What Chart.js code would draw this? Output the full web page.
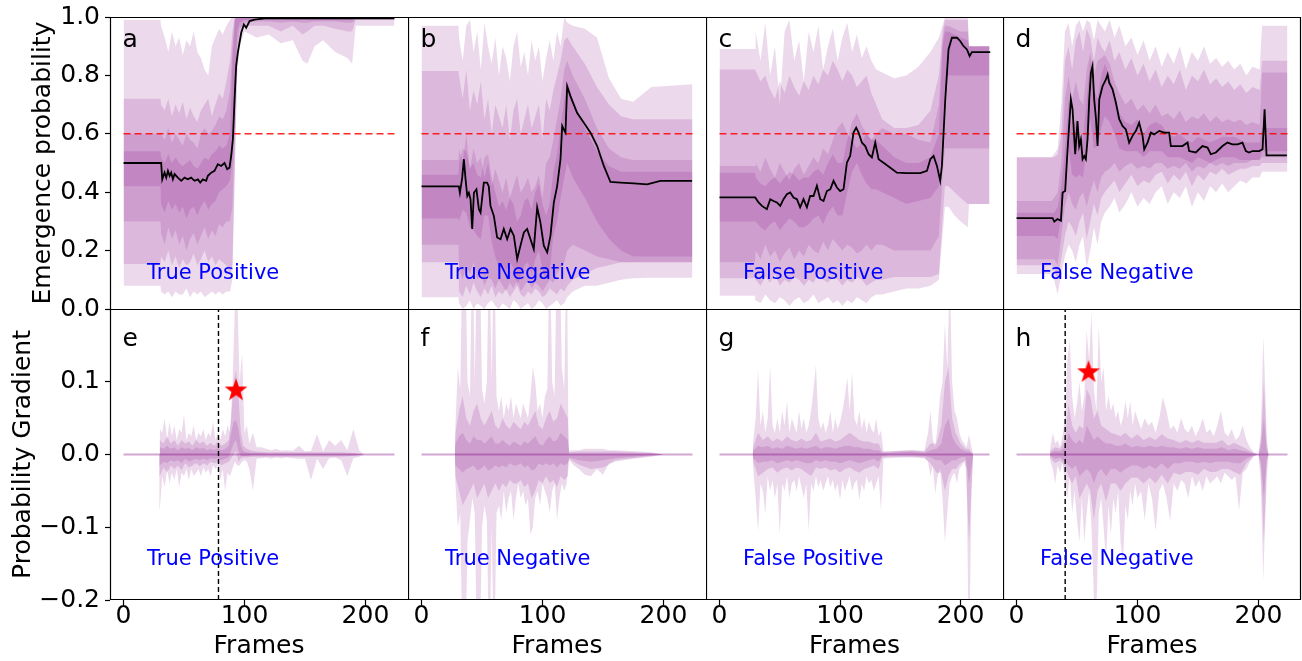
<!DOCTYPE html>
<html><head><meta charset="utf-8"><title>Emergence probability panels</title>
<script src="https://cdn.jsdelivr.net/npm/chart.js@4.4.1/dist/chart.umd.min.js"></script>
<style>
html,body{margin:0;padding:0;background:#fff;}
body{position:relative;width:1302px;height:661px;overflow:hidden;}
canvas{position:absolute;display:block;}
</style></head><body>
<script>
// ---------------- DATA ----------------
const xTicks = [0, 100, 200];
const topTicks = [0, 0.2, 0.4, 0.6, 0.8, 1.0];
const gradTicks = [-0.2, -0.1, 0, 0.1];
const thresholdX = [0, 224];
const thresholdY = [0.6, 0.6];
const zeroX = [0, 224];
const zeroY = [0, 0];
const vlineY = [-0.2, 0.2];
const eVlineX = [78.5, 78.5];
const hVlineX = [40.2, 40.2];
const eStarX = [93], eStarY = [0.088];
const hStarX = [59.5], hStarY = [0.113];

// ---- panel a (True Positive) ----
const aMedX = [0,31.1,32,33.9,35.3,36.7,38.1,39.4,40.8,42.2,44.9,47.7,50.4,53.2,55.9,58.7,61.5,63.4,65.6,68.3,69.7,72.5,75.2,78,80.7,83.5,85.7,87.6,89,90.4,91.8,93.1,94.5,97.3,99.5,101.4,104.2,108.3,116.6,224];
const aMedY = [0.5,0.5,0.444,0.467,0.45,0.473,0.456,0.467,0.444,0.462,0.45,0.439,0.45,0.444,0.45,0.439,0.444,0.433,0.444,0.439,0.456,0.467,0.473,0.496,0.49,0.5,0.479,0.484,0.524,0.581,0.718,0.832,0.878,0.946,0.974,0.963,0.986,0.991,0.995,0.995];
const aBandX = [0,30.5,31,34,37,40,43,46,49,52,55,58,61,64,67,70,73,76,79,82,85,88,90,92,94,96,100,110,120,130,140,148,152,158,165,175,185,189,192,200,224];
const aL1hi = [0.99,0.99,0.97,0.93,0.88,0.95,0.9,0.93,0.87,0.92,0.9,0.95,0.88,0.86,0.82,0.8,0.9,0.93,0.96,0.94,0.97,0.99,1,1,1,1,1,1,1,1,1,1,1,1,1,1,1,1,1,1,1];
const aL1lo = [0.08,0.08,0.06,0.05,0.06,0.04,0.06,0.05,0.05,0.07,0.04,0.06,0.05,0.06,0.04,0.05,0.06,0.05,0.06,0.05,0.06,0.06,0.1,0.45,0.8,0.9,0.95,0.93,0.94,0.91,0.92,0.85,0.84,0.9,0.92,0.88,0.86,0.84,0.97,0.97,0.97];
const aL2hi = [0.72,0.72,0.7,0.68,0.72,0.66,0.7,0.67,0.71,0.65,0.69,0.66,0.64,0.68,0.7,0.72,0.66,0.7,0.74,0.72,0.78,0.85,0.95,1,1,1,1,1,1,1,1,1,1,1,1,1,1,1,1,1,1];
const aL2lo = [0.154,0.154,0.18,0.16,0.2,0.15,0.18,0.14,0.17,0.15,0.16,0.19,0.15,0.17,0.2,0.16,0.18,0.15,0.17,0.16,0.15,0.12,0.15,0.5,0.85,0.93,0.97,0.97,0.97,0.95,0.97,0.94,0.95,0.97,0.97,0.96,0.95,0.95,0.99,0.99,0.99];
const aL3hi = [0.6,0.6,0.6,0.58,0.62,0.57,0.6,0.58,0.56,0.6,0.58,0.57,0.55,0.6,0.62,0.6,0.61,0.63,0.66,0.65,0.68,0.75,0.9,1,1,1,1,1,1,1,1,1,1,1,1,1,1,1,1,1,1];
const aL3lo = [0.3,0.3,0.26,0.22,0.28,0.24,0.27,0.22,0.25,0.2,0.24,0.26,0.22,0.25,0.28,0.24,0.27,0.25,0.29,0.28,0.3,0.3,0.35,0.6,0.9,0.96,0.98,0.985,0.985,0.98,0.985,0.98,0.98,0.985,0.985,0.985,0.98,0.98,0.995,0.995,0.995];
const aL4hi = [0.54,0.54,0.52,0.5,0.53,0.5,0.52,0.5,0.49,0.5,0.51,0.49,0.48,0.5,0.52,0.51,0.53,0.54,0.56,0.55,0.56,0.6,0.85,0.99,1,1,1,1,1,1,1,1,1,1,1,1,1,1,1,1,1];
const aL4lo = [0.42,0.42,0.36,0.33,0.37,0.34,0.36,0.33,0.35,0.31,0.34,0.35,0.32,0.35,0.37,0.34,0.36,0.37,0.4,0.41,0.42,0.44,0.5,0.75,0.95,0.98,0.99,0.99,0.99,0.99,0.99,0.99,0.99,0.99,0.99,0.99,0.99,0.99,1,1,1];

// ---- panel b (True Negative) ----
const bMedX = [0,30.8,31.7,33.6,35,36.4,37.8,39.1,40.5,41.9,43.3,45.4,47.4,48.8,51.5,54.2,55.6,57,59.8,62.5,65.3,68,70.8,73.6,76.3,79.1,81.8,84.6,87.3,90.1,92.8,95.6,98.3,101.1,103.9,106.6,109.4,112.1,114.9,116.3,117.6,119,120.4,123.1,128.6,134.2,139.7,145.2,150.7,156.2,164.5,175.5,186.5,197.5,223.7];
const bMedY = [0.42,0.42,0.398,0.449,0.513,0.444,0.387,0.398,0.376,0.274,0.398,0.41,0.342,0.33,0.433,0.433,0.42,0.353,0.319,0.245,0.239,0.274,0.239,0.274,0.251,0.171,0.217,0.262,0.274,0.239,0.205,0.348,0.296,0.217,0.194,0.251,0.365,0.42,0.513,0.627,0.615,0.604,0.763,0.729,0.672,0.638,0.604,0.558,0.49,0.435,0.433,0.43,0.427,0.439,0.439];
const bBandX = [0,30.5,31,34,37,40,43,46,49,52,55,58,61,64,67,70,73,76,79,82,85,88,91,94,97,100,103,106,109,112,115,118,120.5,125,135,145,155,165,175,190,224];
const bL1hi = [0.97,0.97,0.93,0.85,0.97,0.99,0.88,0.95,0.82,0.98,0.9,0.84,0.93,0.8,0.9,0.86,0.78,0.9,0.95,0.83,0.88,0.8,0.92,0.85,0.9,0.78,0.86,0.92,0.85,0.95,0.9,1.0,0.98,0.97,0.96,0.93,0.79,0.72,0.71,0.76,0.77];
const bL1lo = [0.04,0.04,0.02,0.0,0.01,0.03,0.0,0.02,0.01,0.0,0.02,0.03,0.01,0.0,0.02,0.01,0.0,0.03,0.02,0.0,0.01,0.02,0.0,0.01,0.03,0.02,0.0,0.01,0.02,0.03,0.01,0.02,0.04,0.06,0.08,0.08,0.09,0.1,0.105,0.107,0.107];
const bL2hi = [0.815,0.815,0.8,0.72,0.82,0.68,0.75,0.7,0.78,0.65,0.72,0.6,0.7,0.66,0.62,0.7,0.58,0.68,0.72,0.6,0.65,0.7,0.62,0.66,0.7,0.58,0.72,0.68,0.75,0.8,0.85,0.92,0.93,0.9,0.84,0.76,0.7,0.66,0.65,0.65,0.65];
const bL2lo = [0.16,0.16,0.06,0.04,0.08,0.05,0.09,0.06,0.04,0.07,0.05,0.08,0.04,0.06,0.05,0.07,0.04,0.06,0.08,0.05,0.04,0.06,0.05,0.07,0.06,0.04,0.05,0.07,0.06,0.05,0.07,0.06,0.08,0.1,0.12,0.14,0.15,0.16,0.16,0.16,0.16];
const bL3hi = [0.51,0.51,0.55,0.5,0.6,0.48,0.55,0.5,0.52,0.45,0.5,0.42,0.48,0.44,0.4,0.45,0.38,0.42,0.46,0.4,0.42,0.45,0.4,0.42,0.46,0.38,0.5,0.52,0.58,0.65,0.72,0.82,0.85,0.8,0.72,0.62,0.55,0.52,0.51,0.51,0.51];
const bL3lo = [0.22,0.22,0.14,0.1,0.15,0.12,0.16,0.1,0.12,0.08,0.11,0.1,0.07,0.1,0.08,0.06,0.09,0.07,0.1,0.06,0.08,0.1,0.07,0.09,0.08,0.06,0.08,0.1,0.09,0.12,0.14,0.16,0.2,0.22,0.2,0.18,0.17,0.16,0.16,0.16,0.16];
const bL4hi = [0.46,0.46,0.5,0.55,0.54,0.48,0.5,0.46,0.45,0.52,0.53,0.45,0.4,0.35,0.37,0.34,0.38,0.36,0.3,0.32,0.37,0.38,0.34,0.4,0.43,0.36,0.32,0.36,0.47,0.53,0.62,0.72,0.78,0.72,0.62,0.54,0.49,0.47,0.47,0.47,0.47];
const bL4lo = [0.31,0.31,0.3,0.34,0.33,0.28,0.27,0.25,0.24,0.32,0.32,0.23,0.18,0.14,0.15,0.13,0.16,0.14,0.08,0.11,0.15,0.16,0.12,0.17,0.2,0.13,0.1,0.13,0.25,0.3,0.38,0.45,0.5,0.45,0.38,0.3,0.24,0.2,0.18,0.18,0.18];

// ---- panel c (False Positive) ----
const cMedX = [0,29.6,32.4,35.2,39.3,42.1,44.8,47.6,50.4,53.1,55.9,58.7,61.4,64.2,66.9,69.7,72.5,75.2,78,80.8,83.6,86.3,89.1,91.9,94.6,97.4,100.1,102.9,105.7,108.4,111.2,113.4,115.4,118.1,120.9,123.7,126.4,129.2,132,136.1,141.7,147.2,155.5,166.5,172.1,174.9,177.6,180.4,183.1,184.5,187.3,190,192.8,197,199.8,202.5,205.3,207.5,209.4,224.6];
const cMedY = [0.382,0.382,0.365,0.353,0.342,0.376,0.37,0.365,0.353,0.376,0.393,0.399,0.382,0.376,0.348,0.376,0.348,0.387,0.387,0.422,0.376,0.37,0.404,0.41,0.439,0.416,0.404,0.41,0.501,0.524,0.604,0.621,0.604,0.57,0.558,0.53,0.519,0.57,0.513,0.501,0.484,0.467,0.465,0.465,0.473,0.513,0.524,0.49,0.439,0.49,0.718,0.889,0.929,0.929,0.917,0.9,0.889,0.866,0.88,0.88];
const cBandX = [0,29.5,30,34,38,42,46,50,54,58,62,66,70,74,78,82,86,90,94,98,102,106,110,114,118,122,126,130,135,145,155,165,175,182,185,187,190,195,200,206,207,224];
const cL1hi = [0.89,0.89,0.95,0.85,0.98,0.8,0.9,0.7,0.95,0.99,0.85,0.92,0.78,0.95,0.88,0.97,0.82,0.9,0.96,0.85,0.93,0.98,0.88,0.94,0.86,0.9,0.85,0.82,0.81,0.79,0.8,0.83,0.88,0.93,0.97,1.0,1.0,1.0,1.0,1.0,0.9,0.9];
const cL1lo = [0.045,0.045,0.03,0.02,0.05,0.03,0.02,0.04,0.03,0.01,0.03,0.04,0.02,0.03,0.05,0.02,0.03,0.04,0.02,0.03,0.01,0.03,0.02,0.04,0.03,0.02,0.04,0.05,0.05,0.06,0.07,0.07,0.08,0.1,0.25,0.35,0.35,0.32,0.3,0.28,0.36,0.36];
const cL2hi = [0.82,0.82,0.82,0.78,0.8,0.75,0.72,0.78,0.74,0.8,0.76,0.73,0.78,0.75,0.8,0.77,0.82,0.8,0.85,0.82,0.78,0.82,0.8,0.76,0.78,0.8,0.74,0.7,0.65,0.62,0.62,0.63,0.68,0.8,0.95,0.99,0.99,0.99,0.99,0.99,0.9,0.9];
const cL2lo = [0.105,0.105,0.1,0.08,0.11,0.09,0.12,0.08,0.1,0.09,0.11,0.1,0.08,0.1,0.09,0.12,0.1,0.09,0.11,0.1,0.08,0.1,0.09,0.11,0.1,0.08,0.09,0.1,0.1,0.11,0.11,0.11,0.11,0.12,0.3,0.42,0.42,0.4,0.38,0.36,0.36,0.36];
const cL3hi = [0.49,0.49,0.5,0.47,0.52,0.48,0.45,0.5,0.47,0.44,0.48,0.5,0.46,0.49,0.52,0.5,0.55,0.53,0.58,0.62,0.64,0.6,0.58,0.55,0.57,0.6,0.58,0.6,0.62,0.6,0.6,0.58,0.57,0.7,0.92,0.97,0.97,0.96,0.95,0.95,0.9,0.9];
const cL3lo = [0.16,0.16,0.2,0.17,0.22,0.18,0.2,0.16,0.19,0.21,0.17,0.2,0.18,0.22,0.2,0.19,0.23,0.2,0.24,0.22,0.2,0.22,0.21,0.19,0.2,0.22,0.2,0.22,0.22,0.2,0.2,0.2,0.2,0.25,0.45,0.55,0.55,0.55,0.55,0.55,0.55,0.55];
const cL4hi = [0.467,0.467,0.45,0.43,0.42,0.44,0.45,0.43,0.45,0.47,0.46,0.44,0.45,0.45,0.47,0.48,0.46,0.5,0.53,0.5,0.5,0.58,0.64,0.67,0.63,0.6,0.58,0.58,0.56,0.52,0.5,0.5,0.52,0.6,0.9,0.95,0.95,0.94,0.93,0.92,0.9,0.9];
const cL4lo = [0.3,0.3,0.3,0.28,0.27,0.29,0.3,0.27,0.29,0.31,0.3,0.28,0.28,0.29,0.31,0.32,0.29,0.33,0.35,0.32,0.32,0.4,0.47,0.5,0.46,0.43,0.41,0.41,0.4,0.38,0.36,0.37,0.38,0.42,0.6,0.75,0.8,0.8,0.8,0.8,0.8,0.8];

// ---- panel d (False Negative) ----
const dMedX = [0,29.8,31.2,33.9,36.7,38.1,40.2,42.2,44.9,46.3,48.5,50.4,51.8,53.2,54.6,56,57.3,58.7,60.1,61.5,62.8,64.2,65.6,67,68.4,71.1,73.9,75.3,76.6,79.4,82.1,84.9,87.6,90.4,93.1,95.9,98.7,101.4,104.2,105.6,108.3,111.1,113.8,118,122.1,126.2,127.6,131.7,137.2,141.4,142.7,148.2,153.7,157.9,160.6,164.8,170.3,174.4,178.5,182.7,186.8,189.6,192.3,195.1,200.6,203.4,205.1,206.7,223.5];
const dMedY = [0.311,0.311,0.299,0.308,0.302,0.399,0.404,0.547,0.718,0.684,0.53,0.644,0.558,0.581,0.513,0.524,0.513,0.581,0.718,0.809,0.832,0.718,0.655,0.558,0.718,0.763,0.786,0.803,0.775,0.752,0.707,0.65,0.627,0.615,0.57,0.593,0.61,0.638,0.593,0.547,0.57,0.604,0.598,0.61,0.604,0.604,0.558,0.558,0.558,0.57,0.541,0.536,0.558,0.553,0.53,0.536,0.558,0.57,0.564,0.564,0.57,0.541,0.536,0.541,0.541,0.547,0.684,0.526,0.526];
const dBandX = [0,29,31,34,37,40,43,46,49,52,55,58,61,64,67,70,73,77,81,85,90,95,100,105,110,115,120,125,130,135,140,145,150,155,160,165,170,175,180,185,190,195,201,203,224];
const dL1hi = [0.52,0.52,0.53,0.55,0.7,0.95,0.98,0.9,0.97,0.99,0.95,0.99,0.98,0.92,0.99,0.97,0.95,0.99,0.93,0.97,0.9,0.93,0.87,0.92,0.85,0.9,0.83,0.88,0.84,0.9,0.82,0.88,0.85,0.9,0.84,0.86,0.83,0.85,0.82,0.84,0.8,0.83,0.82,0.97,0.97];
const dL1lo = [0.12,0.12,0.1,0.05,0.12,0.18,0.22,0.2,0.16,0.22,0.25,0.14,0.2,0.28,0.22,0.3,0.33,0.35,0.38,0.33,0.36,0.4,0.35,0.38,0.36,0.4,0.42,0.36,0.4,0.38,0.42,0.35,0.4,0.37,0.42,0.4,0.43,0.4,0.42,0.44,0.43,0.45,0.45,0.47,0.47];
const dL2hi = [0.52,0.52,0.52,0.53,0.6,0.85,0.9,0.82,0.92,0.95,0.88,0.96,0.93,0.85,0.93,0.9,0.88,0.92,0.85,0.88,0.82,0.86,0.8,0.84,0.78,0.82,0.76,0.8,0.77,0.82,0.75,0.8,0.78,0.82,0.77,0.79,0.76,0.78,0.75,0.77,0.74,0.76,0.75,0.85,0.85];
const dL2lo = [0.15,0.15,0.14,0.1,0.17,0.25,0.3,0.28,0.25,0.3,0.33,0.24,0.3,0.36,0.32,0.38,0.4,0.42,0.44,0.4,0.43,0.46,0.42,0.44,0.43,0.46,0.47,0.43,0.46,0.44,0.47,0.42,0.46,0.44,0.47,0.46,0.48,0.46,0.47,0.48,0.48,0.49,0.49,0.5,0.5];
const dL3hi = [0.37,0.37,0.38,0.4,0.5,0.72,0.8,0.72,0.78,0.72,0.7,0.82,0.88,0.8,0.85,0.86,0.87,0.84,0.78,0.74,0.7,0.72,0.68,0.7,0.67,0.7,0.66,0.67,0.65,0.68,0.64,0.66,0.65,0.67,0.64,0.66,0.64,0.65,0.64,0.65,0.63,0.64,0.63,0.81,0.81];
const dL3lo = [0.17,0.17,0.17,0.15,0.25,0.35,0.4,0.36,0.34,0.38,0.4,0.35,0.4,0.44,0.4,0.45,0.47,0.48,0.5,0.47,0.49,0.5,0.48,0.49,0.48,0.5,0.5,0.48,0.49,0.48,0.5,0.47,0.49,0.48,0.5,0.49,0.5,0.49,0.5,0.5,0.5,0.51,0.51,0.52,0.52];
const dL4hi = [0.33,0.33,0.33,0.35,0.42,0.55,0.72,0.62,0.65,0.6,0.58,0.72,0.86,0.75,0.72,0.8,0.84,0.8,0.74,0.67,0.64,0.63,0.65,0.6,0.63,0.64,0.63,0.6,0.59,0.6,0.58,0.57,0.59,0.58,0.57,0.58,0.59,0.59,0.59,0.58,0.57,0.57,0.57,0.62,0.62];
const dL4lo = [0.25,0.25,0.25,0.24,0.32,0.42,0.55,0.46,0.45,0.46,0.45,0.55,0.65,0.55,0.56,0.62,0.66,0.64,0.6,0.55,0.54,0.54,0.54,0.52,0.54,0.54,0.54,0.52,0.52,0.52,0.51,0.5,0.52,0.51,0.5,0.51,0.52,0.52,0.52,0.51,0.51,0.51,0.51,0.54,0.54];

// ---- panel e (gradient, True Positive) ----
const eG1X = [29.5,30,32,34,36,38,40,42,44,46,48,50,52,54,56,58,60,62,64,66,68,70,72,74,76,78,80,82,84,86,88,90,92,94,96,98,100,102,104,107,110,114,118,122,126,130,135,140,145,150,155,160,165,170,175,180,185,190,195,199];
const eG1hi = [0,0.035,0.03,0.05,0.02,0.045,0.025,0.04,0.02,0.035,0.03,0.055,0.02,0.03,0.025,0.04,0.02,0.03,0.025,0.035,0.02,0.03,0.025,0.045,0.02,0.03,0.02,0.035,0.025,0.04,0.03,0.09,0.2,0.22,0.1,0.14,0.03,0.04,0.015,0.03,0.01,0.01,0.008,0.006,0.008,0.005,0.006,0.005,0.012,0.004,0.005,0.028,0.004,0.02,0.012,0.02,0.006,0.035,0.005,0];
const eG1lo = [0,-0.075,-0.03,-0.045,-0.02,-0.04,-0.025,-0.035,-0.02,-0.045,-0.025,-0.03,-0.02,-0.035,-0.02,-0.03,-0.025,-0.02,-0.03,-0.018,-0.025,-0.02,-0.03,-0.015,-0.02,-0.015,-0.035,-0.02,-0.05,-0.025,-0.03,-0.02,-0.01,-0.015,-0.015,-0.01,-0.008,-0.01,-0.02,-0.05,-0.006,-0.005,-0.004,-0.006,-0.004,-0.005,-0.004,-0.005,-0.006,-0.006,-0.035,-0.006,-0.02,-0.005,-0.004,-0.008,-0.03,-0.005,-0.003,0];
const eG2X = [29.5,30,33,36,39,42,45,48,51,54,57,60,63,66,69,72,75,78,81,84,87,89,91,93,95,97,99,102,106,110,120,130,140,150,160,170,180,190,199];
const eG2hi = [0,0.02,0.015,0.025,0.015,0.02,0.012,0.02,0.015,0.018,0.012,0.02,0.015,0.018,0.012,0.016,0.012,0.018,0.012,0.015,0.02,0.05,0.1,0.116,0.08,0.03,0.012,0.008,0.005,0.004,0.003,0.003,0.003,0.003,0.003,0.003,0.003,0.002,0];
const eG2lo = [0,-0.03,-0.018,-0.025,-0.015,-0.02,-0.015,-0.022,-0.012,-0.018,-0.015,-0.012,-0.016,-0.012,-0.015,-0.01,-0.012,-0.01,-0.015,-0.012,-0.01,-0.005,0,0.005,-0.01,-0.005,-0.004,-0.004,-0.003,-0.003,-0.003,-0.003,-0.003,-0.003,-0.003,-0.003,-0.003,-0.002,0];
const eG3hi = [0,0.01,0.008,0.012,0.008,0.01,0.006,0.01,0.008,0.009,0.006,0.01,0.008,0.009,0.006,0.008,0.006,0.009,0.006,0.008,0.012,0.03,0.045,0.047,0.035,0.012,0.005,0.003,0.002,0.002,0.001,0.001,0.001,0.001,0.001,0.001,0.001,0.001,0];
const eG3lo = [0,-0.015,-0.01,-0.012,-0.008,-0.01,-0.008,-0.012,-0.006,-0.01,-0.008,-0.006,-0.008,-0.006,-0.008,-0.005,-0.006,-0.005,-0.008,-0.006,-0.004,0.005,0.015,0.02,0.005,-0.002,-0.002,-0.002,-0.001,-0.001,-0.001,-0.001,-0.001,-0.001,-0.001,-0.001,-0.001,-0.001,0];

// ---- panel f (gradient, True Negative) ----
const fG1X = [27.5,28,30,32,34,36,38,40,42,44,46,48,50,52,54,56,58,60,62,64,66,68,70,72,74,76,78,80,82,84,86,88,90,92,94,96,98,100,102,104,106,108,110,112,114,116,118,120,121.5,122,126,130,135,140,145,150,155,160,170,180,190,200];
const fG1hi = [0,0.04,0.12,0.09,0.3,0.3,0.1,0.08,0.3,0.1,0.3,0.3,0.09,0.07,0.1,0.3,0.1,0.3,0.08,0.06,0.08,0.05,0.07,0.06,0.08,0.05,0.07,0.06,0.05,0.07,0.06,0.05,0.08,0.12,0.1,0.06,0.07,0.05,0.08,0.09,0.3,0.1,0.08,0.3,0.3,0.12,0.09,0.3,0.02,0.005,0.006,0.006,0.008,0.008,0.008,0.008,0.006,0.006,0.005,0.004,0.003,0];
const fG1lo = [0,-0.04,-0.1,-0.08,-0.3,-0.3,-0.12,-0.09,-0.06,-0.08,-0.3,-0.3,-0.1,-0.07,-0.09,-0.3,-0.1,-0.3,-0.08,-0.07,-0.09,-0.05,-0.08,-0.06,-0.05,-0.09,-0.06,-0.04,-0.06,-0.05,-0.07,-0.06,-0.11,-0.1,-0.06,-0.05,-0.07,-0.04,-0.05,-0.06,-0.08,-0.05,-0.04,-0.09,-0.06,-0.04,-0.05,-0.04,-0.01,-0.008,-0.015,-0.02,-0.028,-0.03,-0.02,-0.028,-0.012,-0.008,-0.006,-0.004,-0.002,0];
const fG2X = [27.5,28,31,34,37,40,43,46,49,52,55,58,61,64,67,70,73,76,79,82,85,88,91,94,97,100,103,106,109,112,115,118,121,122,130,140,150,160,175,190,200];
const fG2hi = [0,0.03,0.06,0.08,0.05,0.04,0.06,0.07,0.05,0.04,0.05,0.06,0.04,0.035,0.05,0.04,0.035,0.045,0.04,0.035,0.045,0.04,0.05,0.06,0.04,0.035,0.05,0.06,0.045,0.05,0.07,0.06,0.05,0.003,0.004,0.004,0.004,0.004,0.003,0.002,0];
const fG2lo = [0,-0.03,-0.05,-0.07,-0.06,-0.05,-0.04,-0.06,-0.05,-0.04,-0.06,-0.05,-0.04,-0.05,-0.04,-0.045,-0.035,-0.04,-0.04,-0.035,-0.045,-0.04,-0.06,-0.05,-0.035,-0.04,-0.03,-0.04,-0.035,-0.045,-0.03,-0.035,-0.03,-0.006,-0.014,-0.02,-0.018,-0.01,-0.006,-0.003,0];
const fG3hi = [0,0.015,0.025,0.03,0.02,0.015,0.025,0.02,0.02,0.015,0.02,0.025,0.015,0.015,0.02,0.015,0.012,0.018,0.015,0.012,0.018,0.015,0.02,0.025,0.015,0.012,0.02,0.025,0.018,0.02,0.03,0.025,0.02,0.001,0.001,0.001,0.001,0.001,0.001,0.001,0];
const fG3lo = [0,-0.015,-0.02,-0.025,-0.02,-0.018,-0.015,-0.022,-0.02,-0.015,-0.022,-0.02,-0.015,-0.018,-0.015,-0.018,-0.012,-0.015,-0.015,-0.012,-0.018,-0.015,-0.022,-0.02,-0.012,-0.015,-0.012,-0.015,-0.012,-0.018,-0.012,-0.015,-0.012,-0.004,-0.008,-0.01,-0.008,-0.005,-0.003,-0.001,0];

// ---- panel g (gradient, False Positive) ----
const gG1X = [27.5,28,30,32,34,36,38,40,42,44,46,48,50,52,54,56,58,60,62,64,66,68,70,72,74,76,78,80,82,84,86,88,90,92,94,96,98,100,102,104,106,108,110,112,114,116,118,120,122,124,126,128,130,132,134,136,140,150,160,170,173,175,177,179,181,183,185,187,189,191,193,195,197,199,201,203,205,207,209,210.5];
const gG1hi = [0,0.02,0.05,0.116,0.04,0.06,0.03,0.05,0.123,0.04,0.03,0.05,0.03,0.06,0.04,0.074,0.03,0.05,0.04,0.03,0.06,0.035,0.05,0.03,0.04,0.06,0.09,0.123,0.05,0.035,0.045,0.03,0.04,0.06,0.03,0.05,0.035,0.045,0.06,0.08,0.106,0.06,0.113,0.05,0.04,0.06,0.035,0.05,0.03,0.045,0.035,0.03,0.05,0.025,0.033,0.004,0.004,0.005,0.006,0.005,0.03,0.06,0.02,0.01,0.04,0.08,0.1,0.18,0.12,0.25,0.1,0.06,0.05,0.03,0.02,0.015,0.01,0.028,0.01,0];
const gG1lo = [0,-0.02,-0.06,-0.105,-0.04,-0.05,-0.082,-0.03,-0.05,-0.035,-0.06,-0.04,-0.11,-0.04,-0.05,-0.03,-0.06,-0.04,-0.035,-0.05,-0.03,-0.045,-0.06,-0.04,-0.105,-0.04,-0.05,-0.03,-0.045,-0.035,-0.05,-0.04,-0.03,-0.045,-0.035,-0.05,-0.04,-0.063,-0.035,-0.05,-0.04,-0.03,-0.05,-0.04,-0.035,-0.063,-0.04,-0.05,-0.03,-0.04,-0.035,-0.05,-0.04,-0.03,-0.077,-0.006,-0.005,-0.004,-0.004,-0.005,-0.01,-0.03,-0.015,-0.054,-0.03,-0.02,-0.06,-0.12,-0.08,-0.04,-0.03,-0.025,-0.04,-0.02,-0.015,-0.01,-0.02,-0.3,-0.05,0];
const gG2X = [27.5,28,32,36,40,44,48,52,56,60,64,68,72,76,80,84,88,92,96,100,104,108,112,116,120,124,128,132,135,140,150,160,170,175,180,184,187,190,193,196,200,204,207,210.5];
const gG2hi = [0,0.01,0.03,0.02,0.025,0.018,0.022,0.018,0.025,0.02,0.018,0.022,0.018,0.02,0.03,0.018,0.02,0.022,0.018,0.02,0.025,0.03,0.025,0.02,0.018,0.018,0.015,0.015,0.004,0.004,0.005,0.006,0.004,0.015,0.015,0.04,0.1,0.12,0.05,0.03,0.015,0.008,0.008,0];
const gG2lo = [0,-0.01,-0.03,-0.025,-0.02,-0.018,-0.025,-0.02,-0.018,-0.022,-0.018,-0.02,-0.025,-0.03,-0.018,-0.02,-0.018,-0.022,-0.02,-0.025,-0.02,-0.018,-0.022,-0.025,-0.02,-0.018,-0.015,-0.02,-0.004,-0.003,-0.003,-0.003,-0.004,-0.012,-0.025,-0.025,-0.05,-0.03,-0.02,-0.02,-0.012,-0.008,-0.12,0];
const gG3hi = [0,0.005,0.012,0.01,0.012,0.008,0.01,0.008,0.012,0.01,0.008,0.01,0.008,0.01,0.012,0.008,0.01,0.01,0.008,0.01,0.012,0.012,0.01,0.01,0.008,0.008,0.006,0.006,0.002,0.002,0.003,0.004,0.002,0.006,0.008,0.015,0.04,0.05,0.025,0.015,0.008,0.004,0.004,0];
const gG3lo = [0,-0.005,-0.012,-0.01,-0.01,-0.008,-0.012,-0.01,-0.008,-0.01,-0.008,-0.01,-0.012,-0.012,-0.008,-0.01,-0.008,-0.01,-0.01,-0.012,-0.01,-0.008,-0.01,-0.012,-0.01,-0.008,-0.006,-0.01,-0.002,-0.001,-0.001,-0.001,-0.002,-0.004,-0.008,-0.008,-0.015,-0.012,-0.008,-0.008,-0.004,-0.003,-0.04,0];

// ---- panel h (gradient, False Negative) ----
const hG1X = [27.5,28,30,32,34,36,38,40,42,44,46,48,50,52,54,56,58,60,62,64,66,68,70,72,74,76,78,80,82,84,86,88,90,92,94,96,98,100,103,106,109,112,115,118,121,124,127,130,133,136,139,142,145,148,151,154,157,160,163,166,169,172,175,178,181,184,187,190,193,196,200,202,204,205,207,208.5];
const hG1hi = [0,0.01,0.03,0.015,0.02,0.01,0.025,0.05,0.13,0.157,0.08,0.05,0.07,0.1,0.06,0.08,0.171,0.13,0.196,0.09,0.06,0.178,0.1,0.12,0.06,0.08,0.06,0.07,0.05,0.06,0.04,0.05,0.074,0.05,0.074,0.04,0.06,0.05,0.035,0.05,0.04,0.045,0.03,0.05,0.079,0.06,0.035,0.04,0.03,0.05,0.035,0.03,0.04,0.025,0.035,0.05,0.03,0.035,0.025,0.04,0.06,0.03,0.025,0.035,0.02,0.025,0.04,0.02,0.01,0.003,0,0.03,0.162,0.12,0.02,0];
const hG1lo = [0,-0.01,-0.02,-0.04,-0.015,-0.025,-0.01,-0.04,-0.06,-0.03,-0.08,-0.05,-0.09,-0.12,-0.06,-0.12,-0.08,-0.05,-0.1,-0.2,-0.22,-0.08,-0.06,-0.1,-0.146,-0.07,-0.11,-0.06,-0.08,-0.05,-0.12,-0.15,-0.07,-0.09,-0.05,-0.07,-0.04,-0.06,-0.05,-0.09,-0.04,-0.06,-0.105,-0.05,-0.04,-0.06,-0.091,-0.04,-0.05,-0.035,-0.04,-0.06,-0.03,-0.045,-0.035,-0.05,-0.03,-0.04,-0.035,-0.03,-0.04,-0.025,-0.03,-0.035,-0.03,-0.077,-0.025,-0.02,-0.01,-0.003,0,-0.04,-0.174,-0.12,-0.03,0];
const hG2X = [27.5,28,32,36,40,43,46,49,52,55,58,61,64,67,70,74,78,82,86,90,95,100,105,110,115,120,125,130,135,140,145,150,155,160,165,170,175,180,185,190,196,200,202,204.5,207,208.5];
const hG2hi = [0,0.005,0.01,0.008,0.02,0.07,0.04,0.03,0.04,0.035,0.09,0.08,0.05,0.06,0.04,0.035,0.03,0.028,0.025,0.03,0.022,0.028,0.02,0.024,0.02,0.028,0.022,0.02,0.016,0.02,0.016,0.02,0.016,0.016,0.016,0.02,0.012,0.016,0.012,0.008,0.002,0,0.02,0.1,0.01,0];
const hG2lo = [0,-0.005,-0.012,-0.008,-0.016,-0.03,-0.04,-0.03,-0.06,-0.05,-0.04,-0.05,-0.09,-0.05,-0.04,-0.065,-0.04,-0.04,-0.05,-0.04,-0.032,-0.032,-0.04,-0.032,-0.04,-0.028,-0.04,-0.025,-0.028,-0.024,-0.024,-0.028,-0.02,-0.024,-0.024,-0.02,-0.02,-0.024,-0.028,-0.012,-0.002,0,-0.02,-0.12,-0.01,0];
const hG3hi = [0,0.002,0.005,0.004,0.01,0.03,0.02,0.015,0.02,0.015,0.04,0.03,0.02,0.025,0.02,0.015,0.015,0.012,0.012,0.015,0.01,0.012,0.01,0.012,0.01,0.012,0.01,0.01,0.008,0.01,0.008,0.01,0.008,0.008,0.008,0.01,0.006,0.008,0.006,0.004,0.001,0,0.01,0.05,0.005,0];
const hG3lo = [0,-0.002,-0.006,-0.004,-0.01,-0.015,-0.02,-0.015,-0.03,-0.025,-0.02,-0.025,-0.04,-0.025,-0.02,-0.03,-0.02,-0.02,-0.025,-0.02,-0.015,-0.015,-0.02,-0.015,-0.02,-0.012,-0.02,-0.012,-0.012,-0.01,-0.01,-0.012,-0.01,-0.012,-0.01,-0.01,-0.01,-0.012,-0.012,-0.006,-0.001,0,-0.01,-0.06,-0.005,0];

// ---------------- RENDERING ----------------
const X_MIN = -11.2, X_MAX = 235.2;
const XB = [110, 408, 706, 1003, 1301];
const YB = [17, 309, 600];
const FILL_TOP = 'rgba(128,0,128,0.15)';
const FILL_GRAD = 'rgba(128,0,128,0.15)';
const FONT = "'DejaVu Sans', 'Liberation Sans', sans-serif";
Chart.defaults.font.family = FONT;
Chart.defaults.color = '#000';

function pts(name, xs, ys) {
  if (xs.length !== ys.length) throw new Error('length mismatch ' + name + ': ' + xs.length + ' vs ' + ys.length);
  return xs.map((x, i) => ({x: x, y: ys[i]}));
}
function fmtY(v) {
  const s = Math.abs(v).toFixed(1);
  return (v < -1e-9 ? '\u2212' : '') + s;
}
function makeStar(size, color) {
  const cv = document.createElement('canvas');
  cv.width = size; cv.height = size;
  const g = cv.getContext('2d');
  const R = size / 2, r = R * 0.4;
  g.fillStyle = color;
  g.beginPath();
  for (let i = 0; i < 10; i++) {
    const ang = -Math.PI / 2 + i * Math.PI / 5;
    const rad = i % 2 ? r : R;
    g.lineTo(R + rad * Math.cos(ang), R + rad * Math.sin(ang));
  }
  g.closePath(); g.fill();
  return cv;
}
const STAR = makeStar(24, '#ff0000');

const decor = {
  id: 'decor',
  afterDraw(chart, args, o) {
    const ctx = chart.ctx, a = chart.chartArea;
    ctx.save();
    ctx.strokeStyle = '#000'; ctx.lineWidth = 1.2;
    ctx.beginPath();
    ctx.moveTo(a.left + 0.5, a.bottom); ctx.lineTo(a.left + 0.5, a.top + 0.5); ctx.lineTo(a.right, a.top + 0.5);
    if (o.lastCol) { ctx.moveTo(a.right - 0.5, a.top); ctx.lineTo(a.right - 0.5, a.bottom); }
    if (o.bottomRow) { ctx.moveTo(a.left, a.bottom - 0.5); ctx.lineTo(a.right, a.bottom - 0.5); }
    ctx.stroke();
    ctx.textAlign = 'left'; ctx.textBaseline = 'alphabetic';
    ctx.fillStyle = '#000'; ctx.font = '25px ' + FONT;
    ctx.fillText(o.letter, a.left + 12.5, o.letterY);
    ctx.fillStyle = '#0000ff'; ctx.font = '21px ' + FONT;
    ctx.fillText(o.label, a.left + 37, o.labelY);
    ctx.restore();
  }
};

const panels = [
  {row:0, col:0, letter:'a', label:'True Positive', medX:aMedX, medY:aMedY,
   bands:[['a1',aBandX,aL1lo,aL1hi],['a2',aBandX,aL2lo,aL2hi],['a3',aBandX,aL3lo,aL3hi],['a4',aBandX,aL4lo,aL4hi]]},
  {row:0, col:1, letter:'b', label:'True Negative', medX:bMedX, medY:bMedY,
   bands:[['b1',bBandX,bL1lo,bL1hi],['b2',bBandX,bL2lo,bL2hi],['b3',bBandX,bL3lo,bL3hi],['b4',bBandX,bL4lo,bL4hi]]},
  {row:0, col:2, letter:'c', label:'False Positive', medX:cMedX, medY:cMedY,
   bands:[['c1',cBandX,cL1lo,cL1hi],['c2',cBandX,cL2lo,cL2hi],['c3',cBandX,cL3lo,cL3hi],['c4',cBandX,cL4lo,cL4hi]]},
  {row:0, col:3, letter:'d', label:'False Negative', medX:dMedX, medY:dMedY,
   bands:[['d1',dBandX,dL1lo,dL1hi],['d2',dBandX,dL2lo,dL2hi],['d3',dBandX,dL3lo,dL3hi],['d4',dBandX,dL4lo,dL4hi]]},
  {row:1, col:0, letter:'e', label:'True Positive', vlineX:eVlineX, starX:eStarX, starY:eStarY,
   bands:[['e1',eG1X,eG1lo,eG1hi],['e2',eG2X,eG2lo,eG2hi],['e3',eG2X,eG3lo,eG3hi]]},
  {row:1, col:1, letter:'f', label:'True Negative',
   bands:[['f1',fG1X,fG1lo,fG1hi],['f2',fG2X,fG2lo,fG2hi],['f3',fG2X,fG3lo,fG3hi]]},
  {row:1, col:2, letter:'g', label:'False Positive',
   bands:[['g1',gG1X,gG1lo,gG1hi],['g2',gG2X,gG2lo,gG2hi],['g3',gG2X,gG3lo,gG3hi]]},
  {row:1, col:3, letter:'h', label:'False Negative', vlineX:hVlineX, starX:hStarX, starY:hStarY,
   bands:[['h1',hG1X,hG1lo,hG1hi],['h2',hG2X,hG2lo,hG2hi],['h3',hG2X,hG3lo,hG3hi]]}
];

function gridOpts() {
  return {display:true, drawOnChartArea:false, drawTicks:true, tickLength:5, tickWidth:1.2, color:'#000'};
}

function buildPanel(p) {
  const r = p.row, c = p.col;
  const left = c === 0 ? 0 : XB[c];
  const right = c === 3 ? 1302 : XB[c + 1];
  const top = r === 0 ? 0 : YB[1];
  const bottom = r === 0 ? (c === 0 ? 332 : YB[1]) : 661;
  const W = right - left, H = bottom - top;
  const cv = document.createElement('canvas');
  cv.width = W; cv.height = H;
  cv.style.left = left + 'px'; cv.style.top = top + 'px';
  cv.style.width = W + 'px'; cv.style.height = H + 'px';
  document.body.appendChild(cv);

  const datasets = [];
  const fillColor = r === 0 ? FILL_TOP : FILL_GRAD;
  if (r === 1) {
    datasets.push({data: pts('zero', zeroX, zeroY), borderColor:'rgba(128,0,128,0.35)', borderWidth:1.8, pointRadius:0, fill:false, order:25});
  }
  p.bands.forEach(b => {
    const iLo = datasets.length;
    datasets.push({data: pts(b[0] + 'lo', b[1], b[2]), borderWidth:0, borderColor:'rgba(0,0,0,0)', pointRadius:0, fill:false, order:20});
    datasets.push({data: pts(b[0] + 'hi', b[1], b[3]), borderWidth:0, borderColor:'rgba(0,0,0,0)', pointRadius:0, fill:iLo, backgroundColor:fillColor, order:20});
  });
  if (r === 0) {
    datasets.push({data: pts('thr', thresholdX, thresholdY), borderColor:'rgba(255,0,0,0.85)', borderWidth:1.5, borderDash:[7,4], pointRadius:0, fill:false, order:2});
    datasets.push({data: pts('med' + p.letter, p.medX, p.medY), borderColor:'#000', borderWidth:1.8, pointRadius:0, fill:false, order:1});
  }
  if (p.vlineX) {
    datasets.push({data: pts('vline', p.vlineX, vlineY), borderColor:'#000', borderWidth:1.4, borderDash:[5,3], pointRadius:0, fill:false, order:1});
  }
  if (p.starX) {
    datasets.push({data: pts('star', p.starX, p.starY), showLine:false, pointStyle:STAR, pointRadius:12, fill:false, order:0});
  }

  const yScale = {
    type:'linear', min: r === 0 ? 0 : -0.2, max: r === 0 ? 1 : 0.2,
    display: c === 0,
    afterBuildTicks: s => { s.ticks = (r === 0 ? topTicks : gradTicks).map(v => ({value: v})); },
    ticks: {font:{size:25}, color:'#000', padding:5, callback: v => fmtY(v)},
    grid: gridOpts(),
    border: {display:false},
    title: {display:true, text: r === 0 ? 'Emergence probability' : 'Probability Gradient', font:{size:25}, color:'#000', padding:{top: r === 0 ? 28 : 8, bottom:0}}
  };
  if (c === 0) yScale.afterFit = s => { s.width = 110; s.paddingTop = 0; s.paddingBottom = 0; };

  const xScale = {
    type:'linear', min: X_MIN, max: X_MAX,
    display: r === 1,
    afterBuildTicks: s => { s.ticks = xTicks.map(v => ({value: v})); },
    ticks: {font:{size:25}, color:'#000', padding:-4, maxRotation:0, autoSkip:false, callback: v => String(v)},
    grid: gridOpts(),
    border: {display:false},
    title: {display:true, text:'Frames', font:{size:25}, color:'#000', padding:{top:0, bottom:0}}
  };
  if (r === 1) xScale.afterFit = s => { s.height = 61; s.paddingLeft = 0; s.paddingRight = 0; };

  new Chart(cv, {
    type:'line',
    data:{datasets},
    options:{
      responsive:false, maintainAspectRatio:false, animation:false, devicePixelRatio:1, events:[],
      layout:{autoPadding:false, padding:{left:0, right: c === 3 ? 1 : 0, top: r === 0 ? YB[0] : 0, bottom: (r === 0 && c === 0) ? 332 - YB[1] : 0}},
      elements:{point:{radius:0, hoverRadius:0}, line:{tension:0}},
      plugins:{
        legend:{display:false}, tooltip:{enabled:false},
        decor:{letter:p.letter, label:p.label, letterY: r === 0 ? 47 : 37, labelY: r === 0 ? 279 : 256, lastCol: c === 3, bottomRow: r === 1}
      },
      scales:{x:xScale, y:yScale}
    },
    plugins:[decor]
  });
}

panels.forEach(buildPanel);
</script>
</body></html>
